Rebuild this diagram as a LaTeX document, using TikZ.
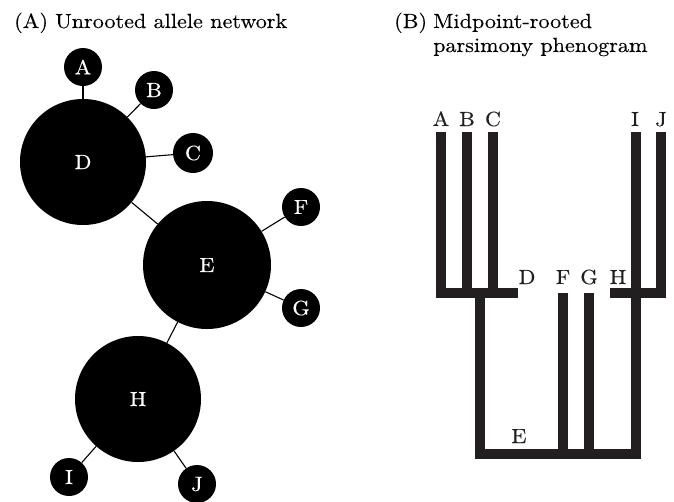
\documentclass[tikz,border=0pt]{standalone}
\usepackage{fontspec}
\setmainfont{lmroman10-regular.otf}[FakeStretch=1.08,FakeBold=0.25]
\begin{document}
\definecolor{barink}{HTML}{231F20}
\begin{tikzpicture}[x=1pt,y=-1pt,
  every node/.style={font=\fontsize{20.5}{24}\selectfont},
  allele/.style={circle,fill=black,text=white,inner sep=0pt,minimum size=#1},
  link/.style={line width=1.1pt,draw=black},
  branch/.style={line width=10pt,draw=barink,line cap=butt,line join=miter},
  tip/.style={anchor=base,text=barink},
  heading/.style={anchor=base west,inner sep=0pt}]
\useasboundingbox (0,0) rectangle (674,501);

% ---- (A) allele network ----
\node[heading] (ta) at (14,28) {(A)};
\node[heading] (tb) at (55,28) {Unrooted allele network};

\node[allele=126pt] (D) at (83,162) {D};
\node[allele=128pt] (E) at (207,265) {E};
\node[allele=126pt] (H) at (138,399) {H};
\node[allele=38pt] (A) at (83,67) {A};
\node[allele=38pt] (B) at (154,90) {B};
\node[allele=40pt] (C) at (193,153) {C};
\node[allele=38pt] (F) at (301,207) {F};
\node[allele=38pt] (G) at (301,308) {G};
\node[allele=38pt] (I) at (69,477) {I};
\node[allele=38pt] (J) at (197,484) {J};

\draw[link] (A) -- (D);
\draw[link] (B) -- (D);
\draw[link] (C) -- (D);
\draw[link] (D) -- (E);
\draw[link] (F) -- (E);
\draw[link] (G) -- (E);
\draw[link] (E) -- (H);
\draw[link] (I) -- (H);
\draw[link] (J) -- (H);

% ---- (B) phenogram ----
\node[heading] (tc) at (394,28) {(B)};
\node[heading] (td) at (433,28) {Midpoint-rooted};
\node[heading] (te) at (433,52) {parsimony phenogram};

% tips and joints
\coordinate (pA) at (441,132);
\coordinate (pB) at (467,132);
\coordinate (pC) at (493,132);
\coordinate (pI) at (636,132);
\coordinate (pJ) at (661,132);
\coordinate (pF) at (563,293);
\coordinate (pG) at (589,293);
\coordinate (pD) at (518,293);
\coordinate (pH) at (610,293);
\coordinate (jL) at (479.5,293);
\coordinate (rL) at (479.5,454);
\coordinate (rR) at (636,454);

\draw[branch] (pA) -- (pA |- pD) -- (pD);
\draw[branch] (pB) -- (pB |- pD);
\draw[branch] (pC) -- (pC |- pD);
\draw[branch] (jL) -- (rL) -- (rR) -- (pI);
\draw[branch] (pF) -- (pF |- rR);
\draw[branch] (pG) -- (pG |- rR);
\draw[branch] (pJ) -- (pJ |- pH) -- (pH);

\node[tip] (lA) at (441,126) {A};
\node[tip] (lB) at (467,126) {B};
\node[tip] (lC) at (493,126) {C};
\node[tip] (lI) at (635,126) {I};
\node[tip] (lJ) at (661,126) {J};
\node[tip] (lD) at (527,284) {D};
\node[tip] (lF) at (563,284) {F};
\node[tip] (lG) at (589,284) {G};
\node[tip] (lH) at (618,284) {H};
\node[tip] (lE) at (519,443) {E};
\end{tikzpicture}
\end{document}
